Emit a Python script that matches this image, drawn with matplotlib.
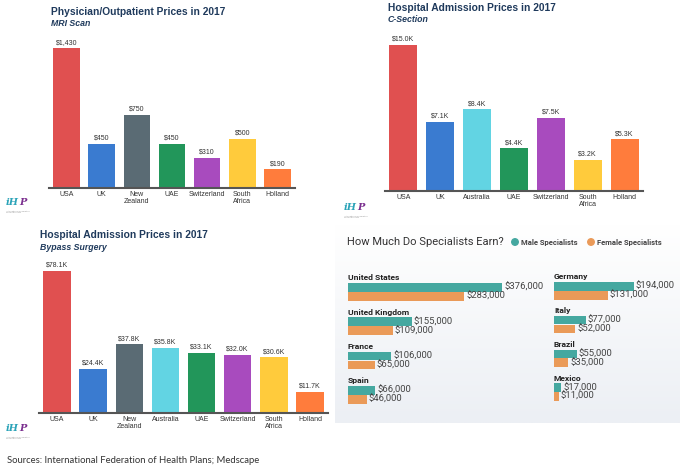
import matplotlib
matplotlib.use('Agg')
import matplotlib.pyplot as plt
import numpy as np
from matplotlib.colors import LinearSegmentedColormap

plt.rcParams['font.family'] = ['Liberation Sans', 'DejaVu Sans']

# ---- data ----
mri_countries = ['USA', 'UK', 'New\nZealand', 'UAE', 'Switzerland', 'South\nAfrica', 'Holland']
mri_prices = [1430, 450, 750, 450, 310, 500, 190]

csec_countries = ['USA', 'UK', 'Australia', 'UAE', 'Switzerland', 'South\nAfrica', 'Holland']
csec_prices = [15.0, 7.1, 8.4, 4.4, 7.5, 3.2, 5.3]  # $K

bypass_countries = ['USA', 'UK', 'New\nZealand', 'Australia', 'UAE', 'Switzerland',
                    'South\nAfrica', 'Holland']
bypass_prices = [78.1, 24.4, 37.8, 35.8, 33.1, 32.0, 30.6, 11.7]  # $K

left_countries = ['United States', 'United Kingdom', 'France', 'Spain']
left_male = [376000, 155000, 106000, 66000]
left_female = [283000, 109000, 65000, 46000]

right_countries = ['Germany', 'Italy', 'Brazil', 'Mexico']
right_male = [194000, 77000, 55000, 17000]
right_female = [131000, 52000, 35000, 11000]

COLORS = {
    'USA': '#E05050', 'UK': '#3A7BD0', 'New\nZealand': '#5A6B74',
    'Australia': '#62D4E3', 'UAE': '#22965A', 'Switzerland': '#A84BBE',
    'South\nAfrica': '#FFCB3C', 'Holland': '#FF7C3C',
}
MALE = '#45A8A0'
FEMALE = '#EA9A58'
NAVY = '#1F3A5C'

W, H = 680, 473
fig = plt.figure(figsize=(6.8, 4.73), dpi=100)


def px_axes(l, t, r, b):
    return fig.add_axes([l / W, 1 - b / H, (r - l) / W, (b - t) / H])


# overlay in pixel units for titles, logos, background
ov = px_axes(0, 0, W, H)
bg = LinearSegmentedColormap.from_list('bg', ['#ffffff', '#eceff4'])
ov.imshow(np.linspace(0, 1, 100).reshape(-1, 1), cmap=bg,
          extent=(335, 680, 423, 225), aspect='auto')
ov.set_xlim(0, W)
ov.set_ylim(H, 0)
ov.axis('off')


def price_chart(box, countries, values, fmt, title, subtitle, tx, ty):
    l, t, r, b = box
    ax = px_axes(l, t, r, b)
    ax.patch.set_alpha(0)
    x = np.arange(len(countries))
    ax.bar(x, values, width=0.76, color=[COLORS[c] for c in countries])
    ax.set_xlim(-0.5, len(countries) - 0.5)
    ax.set_ylim(0, max(values))
    for xi, v in zip(x, values):
        ax.annotate(fmt(v), (xi, v), xytext=(0, 1.5), textcoords='offset points',
                    ha='center', va='bottom', fontsize=5, color='#333333')
    ax.set_xticks(x)
    ax.set_xticklabels(countries, fontsize=5, color='#333333', linespacing=1.0)
    ax.tick_params(length=0, pad=2.5)
    ax.set_yticks([])
    for s in ['top', 'right', 'left']:
        ax.spines[s].set_visible(False)
    ax.spines['bottom'].set_color('#555555')
    ax.spines['bottom'].set_linewidth(1.5)
    ov.text(tx, ty, title, fontsize=7.4, fontweight='bold', color=NAVY, va='center')
    ov.text(tx, ty + 12, subtitle, fontsize=6.3, fontweight='bold', style='italic',
            color=NAVY, va='center')


price_chart((49, 48, 295, 188), mri_countries, mri_prices, lambda v: f'${v:,}',
            'Physician/Outpatient Prices in 2017', 'MRI Scan', 51, 12)
price_chart((385, 45, 643, 191), csec_countries, csec_prices, lambda v: f'${v:.1f}K',
            'Hospital Admission Prices in 2017', 'C-Section', 388, 8)
price_chart((39, 271, 328, 413), bypass_countries, bypass_prices, lambda v: f'${v:.1f}K',
            'Hospital Admission Prices in 2017', 'Bypass Surgery', 40, 235)


def logo(x, y):
    t = ov.text(x, y, 'iH', fontsize=7, fontweight='bold', style='italic', color='#2BA3B8',
                va='bottom', family='DejaVu Serif')
    ov.annotate('P', xy=(1, 0), xycoords=t,
                fontsize=7, fontweight='bold', style='italic',
                color='#7A2E8E', va='bottom', ha='left', family='DejaVu Serif')
    ov.text(x, y + 5, 'International Federation\nof Health Plans', fontsize=1.6,
            color='#999999', va='center', linespacing=1.2)


logo(6, 207)
logo(344, 212)
logo(6, 433)

# ---- specialists panel ----
ov.text(347, 242, 'How Much Do Specialists Earn?', fontsize=8, color='#333333',
        va='center', family='Roboto')
ov.scatter([515, 591], [242, 242], s=22, color=[MALE, FEMALE], zorder=3)
ov.text(521, 242, 'Male Specialists', fontsize=5.5, fontweight='bold', color='#444444',
        va='center', family='Roboto')
ov.text(597, 242, 'Female Specialists', fontsize=5.5, fontweight='bold', color='#444444',
        va='center', family='Roboto')

SCALE = 0.00041  # px per dollar


def earn_column(left, countries, male, female, y0, pitch):
    width = 175
    ax = px_axes(left, 265, left + width, 412)
    ax.patch.set_alpha(0)
    ax.set_xlim(0, width / SCALE)
    ax.set_ylim(412, 265)
    ys = y0 + pitch * np.arange(len(countries))
    ax.barh(ys + 9.5, male, height=8.6, color=MALE)
    ax.barh(ys + 18.3, female, height=8.6, color=FEMALE)
    for y, name, m, f in zip(ys, countries, male, female):
        ax.text(0, y, name, fontsize=6.1, fontweight='bold', color='#222222',
                va='center', family='Roboto')
        for yy, v in ((y + 9.5, m), (y + 18.3, f)):
            ax.annotate(f'${v:,}', (v, yy), xytext=(1.5, 0), textcoords='offset points',
                        ha='left', va='center', fontsize=6.8, color='#444444',
                        family='Roboto')
    ax.axis('off')


earn_column(348, left_countries, left_male, left_female, 278, 34.3)
earn_column(554, right_countries, right_male, right_female, 277, 33.7)

ov.text(7, 460, 'Sources: International Federation of Health Plans; Medscape',
        fontsize=6.8, color='#333333', va='center', family='Lato')

fig.savefig('out.png', dpi=100)
